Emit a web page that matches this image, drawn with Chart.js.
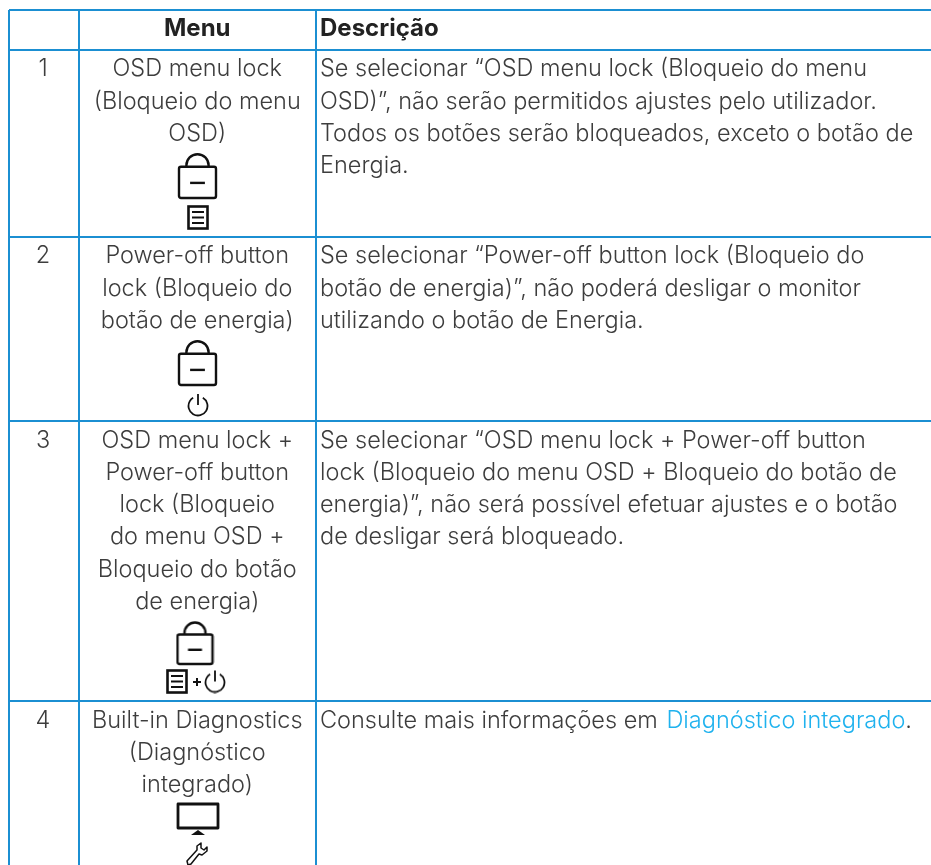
<!DOCTYPE html>
<html>
  <head>
    <meta charset="UTF-8" />
    <script src="https://cdn.jsdelivr.net/npm/chart.js"></script>
    <style>
      html, body { margin: 0; padding: 0; background: #fff; overflow: hidden; }
      canvas { display: block; }
    </style>
  </head>
  <body>
    <canvas id="myChart" width="931" height="865"></canvas>
    <script>
      const colEdges = [9, 79, 315.5];
      const rowEdges = [10, 49.5, 236.5, 421, 701];

      const headers = ["", "Menu", "Descrição"];
      const rowNumbers = ["1", "2", "3", "4"];
      const menuLines = [
        ["OSD menu lock", "(Bloqueio do menu", "OSD)"],
        ["Power-off button", "lock (Bloqueio do", "botão de energia)"],
        ["OSD menu lock +", "Power-off button", "lock (Bloqueio", "do menu OSD +", "Bloqueio do botão", "de energia)"],
        ["Built-in Diagnostics", "(Diagnóstico", "integrado)"],
      ];
      const descLines = [
        ["Se selecionar “OSD menu lock (Bloqueio do menu", "OSD)”, não serão permitidos ajustes pelo utilizador.", "Todos os botões serão bloqueados, exceto o botão de", "Energia."],
        ["Se selecionar “Power-off button lock (Bloqueio do", "botão de energia)”, não poderá desligar o monitor", "utilizando o botão de Energia."],
        ["Se selecionar “OSD menu lock + Power-off button", "lock (Bloqueio do menu OSD + Bloqueio do botão de", "energia)”, não será possível efetuar ajustes e o botão", "de desligar será bloqueado."],
        ["Consulte mais informações em "],
      ];
      const linkText = "Diagnóstico integrado";

      const iconKinds = ["lock", "menu", "lock", "power", "lockSmall", "menu", "plus", "power", "monitor", "wrench"];
      const iconX = [197.5, 198, 197.5, 198, 195, 177, 197, 215, 198, 197];
      const iconY = [175, 217.5, 362, 405, 641, 681.5, 682, 681.5, 819, 854];

      const FONT = '"Inter", sans-serif';
      const TEXT_COLOR = "#3d3d3d";
      const LINK_COLOR = "#1fb2ee";
      const GRID_COLOR = "#1b8fd2";
      const LINE_HEIGHT = 32.2;
      const BASELINE = 26.8;

      function makeIcon(w, h, draw) {
        const c = document.createElement("canvas");
        c.width = w;
        c.height = h;
        const g = c.getContext("2d");
        g.strokeStyle = "#111";
        g.fillStyle = "#111";
        g.lineWidth = 2.4;
        draw(g);
        return c;
      }

      function lockIcon(w) {
        return makeIcon(w + 4, 52, g => {
          const h = w * 0.87;
          const top = 50 - h;
          g.lineJoin = "round";
          g.beginPath();
          g.roundRect(2, top, w, h - 1, 2);
          g.stroke();
          g.beginPath();
          g.arc(2 + w / 2, top - 1.5, w * 0.3, Math.PI, 0);
          g.moveTo(2 + w * 0.2, top - 1.5);
          g.lineTo(2 + w * 0.2, top);
          g.moveTo(2 + w * 0.8, top - 1.5);
          g.lineTo(2 + w * 0.8, top);
          g.stroke();
          g.beginPath();
          g.moveTo(2 + w * 0.3, top + h / 2);
          g.lineTo(2 + w * 0.7, top + h / 2);
          g.stroke();
        });
      }

      const iconImages = {
        lock: lockIcon(37),
        lockSmall: lockIcon(35),
        menu: makeIcon(22, 25, g => {
          g.lineWidth = 2.6;
          g.strokeRect(1.5, 1.5, 19, 22);
          g.lineWidth = 2;
          [7, 12.5, 18].forEach(y => {
            g.beginPath();
            g.moveTo(5, y);
            g.lineTo(17, y);
            g.stroke();
          });
        }),
        power: makeIcon(24, 24, g => {
          g.lineWidth = 1.8;
          g.beginPath();
          g.arc(12, 13, 9.5, -Math.PI * 0.33, Math.PI * 1.33);
          g.stroke();
          g.beginPath();
          g.moveTo(12, 1);
          g.lineTo(12, 12);
          g.stroke();
        }),
        plus: makeIcon(10, 10, g => {
          g.lineWidth = 2;
          g.beginPath();
          g.moveTo(1, 5);
          g.lineTo(9, 5);
          g.moveTo(5, 1);
          g.lineTo(5, 9);
          g.stroke();
        }),
        monitor: makeIcon(44, 34, g => {
          g.lineWidth = 2.8;
          g.lineJoin = "round";
          g.strokeRect(2, 2, 40, 24);
          g.beginPath();
          g.moveTo(15, 33);
          g.lineTo(22, 28);
          g.lineTo(29, 33);
          g.closePath();
          g.fill();
        }),
        wrench: makeIcon(24, 24, g => {
          g.lineWidth = 1.5;
          g.lineJoin = "round";
          g.beginPath();
          g.moveTo(2, 19);
          g.lineTo(12, 8);
          g.lineTo(12, 4);
          g.lineTo(16, 1);
          g.lineTo(16, 6);
          g.lineTo(19, 8);
          g.lineTo(22, 5);
          g.lineTo(22, 9);
          g.lineTo(17, 13);
          g.lineTo(14, 12);
          g.lineTo(6, 22);
          g.lineTo(3, 23);
          g.closePath();
          g.stroke();
        }),
      };

      const tableText = {
        id: "tableText",
        afterDraw(chart) {
          const { ctx, scales } = chart;
          const px = v => scales.x.getPixelForValue(v);
          const py = v => scales.y.getPixelForValue(v);
          const midMenu = (colEdges[1] + colEdges[2]) / 2;
          const midNum = (colEdges[0] + colEdges[1]) / 2;
          const descX = colEdges[2] + 4.5;

          ctx.save();
          ctx.textBaseline = "alphabetic";

          ctx.font = `700 24px ${FONT}`;
          ctx.fillStyle = "#222";
          ctx.textAlign = "center";
          ctx.fillText(headers[1], px(midMenu), py(rowEdges[0]) + 25.5);
          ctx.textAlign = "left";
          ctx.fillText(headers[2], px(descX), py(rowEdges[0]) + 25.5);

          ctx.font = `300 23.5px ${FONT}`;
          ctx.fillStyle = TEXT_COLOR;
          rowNumbers.forEach((n, r) => {
            const base = py(rowEdges[r + 1]) + BASELINE;
            ctx.textAlign = "center";
            ctx.fillText(n, px(midNum) - 1, base);
            menuLines[r].forEach((line, i) => {
              ctx.fillText(line, px(midMenu), base + i * LINE_HEIGHT);
            });
            ctx.textAlign = "left";
            descLines[r].forEach((line, i) => {
              ctx.fillText(line, px(descX), base + i * LINE_HEIGHT);
            });
          });

          // last row ends in a link
          const r = rowEdges.length - 2;
          const lead = descLines[r][0];
          const base = py(rowEdges[r + 1]) + BASELINE;
          let x = px(descX) + ctx.measureText(lead).width + 2;
          ctx.fillStyle = LINK_COLOR;
          ctx.fillText(linkText, x, base);
          x += ctx.measureText(linkText).width;
          ctx.fillStyle = TEXT_COLOR;
          ctx.fillText(".", x, base);
          ctx.restore();
        },
      };

      new Chart(document.getElementById("myChart"), {
        type: "scatter",
        data: {
          datasets: [
            {
              data: iconX.map((x, i) => ({ x: x, y: iconY[i] })),
              pointStyle: iconKinds.map(k => iconImages[k]),
              pointRadius: 10,
            },
          ],
        },
        options: {
          responsive: false,
          animation: false,
          events: [],
          layout: { autoPadding: false, padding: { left: 9, top: 10, right: 0, bottom: 0 } },
          plugins: { legend: { display: false }, tooltip: { enabled: false } },
          scales: {
            x: {
              type: "linear",
              position: "top",
              min: 9,
              max: 931,
              afterBuildTicks: scale => {
                scale.ticks = colEdges.map(v => ({ value: v }));
              },
              ticks: { display: false },
              border: { display: false },
              grid: { color: GRID_COLOR, lineWidth: 2, drawTicks: false },
            },
            y: {
              type: "linear",
              reverse: true,
              min: 10,
              max: 865,
              afterBuildTicks: scale => {
                scale.ticks = rowEdges.map(v => ({ value: v }));
              },
              ticks: { display: false },
              border: { display: false },
              grid: { color: GRID_COLOR, lineWidth: 2, drawTicks: false },
            },
          },
        },
        plugins: [tableText],
      });
    </script>
  </body>
</html>
